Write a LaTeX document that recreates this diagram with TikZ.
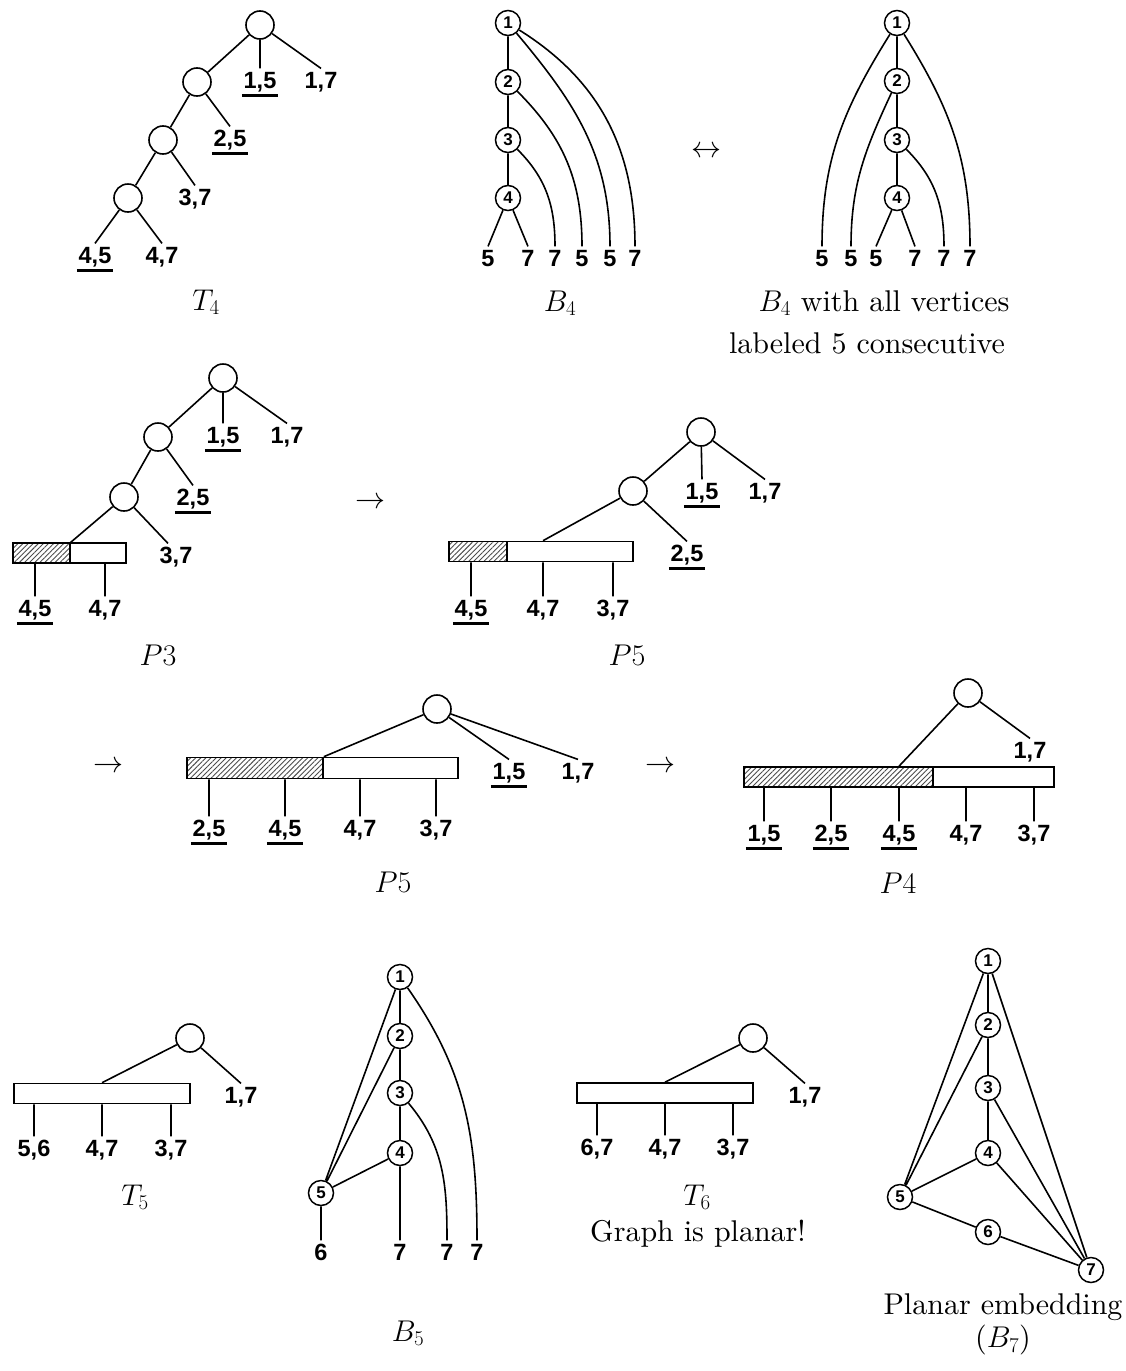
\RequirePackage{fix-cm}
\documentclass[tikz,border=0pt]{standalone}
\usepackage{fontspec}
\setmainfont{lmroman10-regular}[Extension=.otf]
\setsansfont{Liberation Sans}
\usetikzlibrary{patterns.meta}
\newcommand\undl[1]{\draw[ulline] ([yshift=-4pt]#1.south west) -- ([yshift=-4pt]#1.south east);}
\begin{document}
\begin{tikzpicture}[x=1pt,y=1pt,
  lab/.style={font=\sffamily\bfseries\fontsize{23.5}{23.5}\selectfont, inner xsep=1.5pt, inner ysep=3pt, text height=16.8pt, text depth=0pt},
  tn/.style={circle, draw, line width=1.6pt, minimum size=28pt, inner sep=0pt},
  vn/.style={circle, draw, line width=1.5pt, minimum size=25pt, inner sep=0pt, font=\sffamily\bfseries\fontsize{17}{17}\selectfont},
  conn/.style={line width=1.6pt},
  captxt/.style={font=\fontsize{30}{36}\selectfont, inner sep=0pt},
  barbox/.style={draw, line width=1.6pt, inner sep=0pt, fill=white},
  hatchbox/.style={draw, line width=1.6pt, inner sep=0pt, pattern={Lines[angle=45,distance=3.6pt,line width=0.9pt]}, pattern color=black!70},
  ulline/.style={line width=3.5pt}
]
\useasboundingbox (0,0) rectangle (1125,-1371);

% ---------- T4 ----------
\node[tn] (a0) at (260,-25) {};
\node[tn] (a1) at (197,-82) {};
\node[tn] (a2) at (163,-140) {};
\node[tn] (a3) at (128,-198) {};
\node[lab] (a15) at (260,-80) {1,5};
\node[lab] (a17) at (321,-80) {1,7};
\node[lab] (a25) at (230,-138) {2,5};
\node[lab] (a37) at (195,-197) {3,7};
\node[lab] (a45) at (95,-255) {4,5};
\node[lab] (a47) at (162,-255) {4,7};
\draw[conn] (a0)--(a1) (a1)--(a2) (a2)--(a3) (a0)--(a15.north) (a0)--(a17.north)
  (a1)--(a25.north) (a2)--(a37.north) (a3)--(a45.north) (a3)--(a47.north);
\undl{a15}\undl{a25}\undl{a45}
\node[captxt] (cT4) at (206,-302) {$T_4$};

% ---------- B4 ----------
\node[vn] (b1) at (508,-23) {1};
\node[vn] (b2) at (508,-82) {2};
\node[vn] (b3) at (508,-140) {3};
\node[vn] (b4) at (508,-198) {4};
\node[lab] (bl1) at (488,-258) {5};
\node[lab] (bl2) at (528,-258) {7};
\node[lab] (bl3) at (555,-258) {7};
\node[lab] (bl4) at (582,-258) {5};
\node[lab] (bl5) at (610,-258) {5};
\node[lab] (bl6) at (635,-258) {7};
\draw[conn] (b1)--(b2) (b2)--(b3) (b3)--(b4) (b4)--(bl1.north) (b4)--(bl2.north);
\draw[conn] (b3) to[out=-45,in=90] (bl3.north);
\draw[conn] (b2) to[out=-45,in=90] (bl4.north);
\draw[conn] (b1) to[out=-50,in=90] (bl5.north);
\draw[conn] (b1) to[out=-32,in=90] (bl6.north);
\node[captxt] (cB4) at (560,-303) {$B_4$};

\node[captxt] (arr0) at (706,-152) {$\leftrightarrow$};

% ---------- B4 consecutive ----------
\node[vn] (d1) at (897,-23) {1};
\node[vn] (d2) at (897,-81) {2};
\node[vn] (d3) at (897,-140) {3};
\node[vn] (d4) at (897,-198) {4};
\node[lab] (dl1) at (822,-258) {5};
\node[lab] (dl2) at (851,-258) {5};
\node[lab] (dl3) at (876,-258) {5};
\node[lab] (dl4) at (915,-258) {7};
\node[lab] (dl5) at (944,-258) {7};
\node[lab] (dl6) at (970,-258) {7};
\draw[conn] (d1)--(d2) (d2)--(d3) (d3)--(d4) (d4)--(dl3.north) (d4)--(dl4.north);
\draw[conn] (d1) to[out=-122,in=90] (dl1.north);
\draw[conn] (d2) to[out=-115,in=90] (dl2.north);
\draw[conn] (d3) to[out=-45,in=90] (dl5.north);
\draw[conn] (d1) to[out=-58,in=90] (dl6.north);
\node[captxt] (cD1) at (884,-303) {$B_4$ with all vertices};
\node[captxt] (cD2) at (867,-343) {labeled 5 consecutive};

% ---------- P3 ----------
\node[tn] (p0) at (223,-378) {};
\node[tn] (p1) at (158,-437) {};
\node[tn] (p2) at (124,-497) {};
\node[lab] (p15) at (223,-435) {1,5};
\node[lab] (p17) at (287,-435) {1,7};
\node[lab] (p25) at (193,-497) {2,5};
\node[lab] (p37) at (176,-555) {3,7};
\node[hatchbox, minimum width=57pt, minimum height=20pt] (pH) at (41.5,-553) {};
\node[barbox, minimum width=56pt, minimum height=20pt] (pB) at (98,-553) {};
\node[lab] (p45) at (35,-608) {4,5};
\node[lab] (p47) at (105,-608) {4,7};
\draw[conn] (p0)--(p1) (p1)--(p2) (p0)--(p15.north) (p0)--(p17.north) (p1)--(p25.north)
  (p2)--([xshift=-8pt]p37.north) (p2)--(pH.north east)
  (p45.north)--(p45.north |- pH.south) (p47.north)--(p47.north |- pB.south);
\undl{p15}\undl{p25}\undl{p45}
\node[captxt] (cP3) at (158,-655) {$P3$};

\node[captxt] (arr1) at (370,-503) {$\rightarrow$};

% ---------- P5 (row 2) ----------
\node[tn] (q0) at (701,-432) {};
\node[tn] (q1) at (633,-491) {};
\node[lab] (q15) at (702,-491) {1,5};
\node[lab] (q17) at (765,-491) {1,7};
\node[lab] (q25) at (687,-553) {2,5};
\node[hatchbox, minimum width=58pt, minimum height=20pt] (qH) at (478,-551.5) {};
\node[barbox, minimum width=126pt, minimum height=20pt] (qB) at (570,-551.5) {};
\node[lab] (q45) at (471,-608) {4,5};
\node[lab] (q47) at (543,-608) {4,7};
\node[lab] (q37) at (613,-608) {3,7};
\draw[conn] (q0)--(q1) (q0)--(q15.north) (q0)--(q17.north) (q1)--(q25.north)
  (q1)--(q47.north |- qB.north)
  (q45.north)--(q45.north |- qH.south) (q47.north)--(q47.north |- qB.south)
  (q37.north)--(q37.north |- qB.south);
\undl{q15}\undl{q25}\undl{q45}
\node[captxt] (cP5a) at (627,-655) {$P5$};

% ---------- P5 (row 3) ----------
\node[captxt] (arr2) at (108,-767) {$\rightarrow$};
\node[tn] (s0) at (437,-709) {};
\node[hatchbox, minimum width=136pt, minimum height=21pt] (sH) at (255,-768) {};
\node[barbox, minimum width=135pt, minimum height=21pt] (sB) at (390.5,-768) {};
\node[lab] (s15) at (509,-771) {1,5};
\node[lab] (s17) at (578,-771) {1,7};
\node[lab] (s25) at (209,-828) {2,5};
\node[lab] (s45) at (285,-828) {4,5};
\node[lab] (s47) at (360,-828) {4,7};
\node[lab] (s37) at (436,-828) {3,7};
\draw[conn] (s0)--(sH.north east) (s0)--(s15.north) (s0)--(s17.north)
  (s25.north)--(s25.north |- sH.south) (s45.north)--(s45.north |- sH.south)
  (s47.north)--(s47.north |- sB.south) (s37.north)--(s37.north |- sB.south);
\undl{s15}\undl{s25}\undl{s45}
\node[captxt] (cP5b) at (393,-882) {$P5$};

\node[captxt] (arr3) at (660,-767) {$\rightarrow$};

% ---------- P4 ----------
\node[tn] (t0) at (968,-693) {};
\node[lab] (t17) at (1030,-750) {1,7};
\node[hatchbox, minimum width=189pt, minimum height=20pt] (tH) at (838.5,-777) {};
\node[barbox, minimum width=121pt, minimum height=20pt] (tB) at (993.5,-777) {};
\node[lab] (t15) at (764,-833) {1,5};
\node[lab] (t25) at (831,-833) {2,5};
\node[lab] (t45) at (899,-833) {4,5};
\node[lab] (t47) at (966,-833) {4,7};
\node[lab] (t37) at (1034,-833) {3,7};
\draw[conn] (t0)--(t17.north) (t0)--(t45.north |- tH.north)
  (t15.north)--(t15.north |- tH.south) (t25.north)--(t25.north |- tH.south)
  (t45.north)--(t45.north |- tH.south) (t47.north)--(t47.north |- tB.south)
  (t37.north)--(t37.north |- tB.south);
\undl{t15}\undl{t25}\undl{t45}
\node[captxt] (cP4) at (898,-883) {$P4$};

% ---------- T5 ----------
\node[tn] (u0) at (190,-1038) {};
\node[barbox, minimum width=176pt, minimum height=20pt] (uB) at (102,-1093.5) {};
\node[lab] (u17) at (241,-1095) {1,7};
\node[lab] (u56) at (34,-1148) {5,6};
\node[lab] (u47) at (102,-1148) {4,7};
\node[lab] (u37) at (171,-1148) {3,7};
\draw[conn] (u0)--(u17.north) (u0)--(u47.north |- uB.north)
  (u56.north)--(u56.north |- uB.south) (u47.north)--(u47.north |- uB.south)
  (u37.north)--(u37.north |- uB.south);
\node[captxt] (cT5) at (135,-1197) {$T_5$};

% ---------- B5 ----------
\node[vn] (e1) at (400,-977) {1};
\node[vn] (e2) at (400,-1036) {2};
\node[vn] (e3) at (400,-1093) {3};
\node[vn] (e4) at (400,-1153) {4};
\node[vn] (e5) at (321,-1193) {5};
\node[lab] (el1) at (321,-1252) {6};
\node[lab] (el2) at (400,-1252) {7};
\node[lab] (el3) at (447,-1252) {7};
\node[lab] (el4) at (477,-1252) {7};
\draw[conn] (e1)--(e2) (e2)--(e3) (e3)--(e4) (e1)--(e5) (e2)--(e5) (e4)--(e5)
  (e5)--(el1.north) (e4)--(el2.north);
\draw[conn] (e3) to[out=-50,in=90] (el3.north);
\draw[conn] (e1) to[out=-55,in=90] (el4.north);
\node[captxt] (cB5) at (408,-1333) {$B_5$};

% ---------- T6 ----------
\node[tn] (v0) at (753,-1038) {};
\node[barbox, minimum width=176pt, minimum height=20pt] (vB) at (665,-1093) {};
\node[lab] (v17) at (805,-1095) {1,7};
\node[lab] (v67) at (597,-1147) {6,7};
\node[lab] (v47) at (665,-1147) {4,7};
\node[lab] (v37) at (733,-1147) {3,7};
\draw[conn] (v0)--(v17.north) (v0)--(v47.north |- vB.north)
  (v67.north)--(v67.north |- vB.south) (v47.north)--(v47.north |- vB.south)
  (v37.north)--(v37.north |- vB.south);
\node[captxt] (cT6) at (697,-1197) {$T_6$};
\node[captxt] (cT6b) at (698,-1234) {Graph is planar!};

% ---------- B7 ----------
\node[vn] (f1) at (988,-961) {1};
\node[vn] (f2) at (988,-1025) {2};
\node[vn] (f3) at (988,-1088) {3};
\node[vn] (f4) at (988,-1153) {4};
\node[vn] (f5) at (900,-1197) {5};
\node[vn] (f6) at (988,-1232) {6};
\node[vn] (f7) at (1091,-1270) {7};
\draw[conn] (f1)--(f2) (f2)--(f3) (f3)--(f4) (f1)--(f5) (f2)--(f5) (f4)--(f5)
  (f5)--(f6) (f6)--(f7) (f4)--(f7) (f3)--(f7) (f1)--(f7);
\node[captxt] (cB7a) at (1003,-1307) {Planar embedding};
\node[captxt] (cB7b) at (1003,-1340) {($B_7$)};
\end{tikzpicture}
\end{document}
